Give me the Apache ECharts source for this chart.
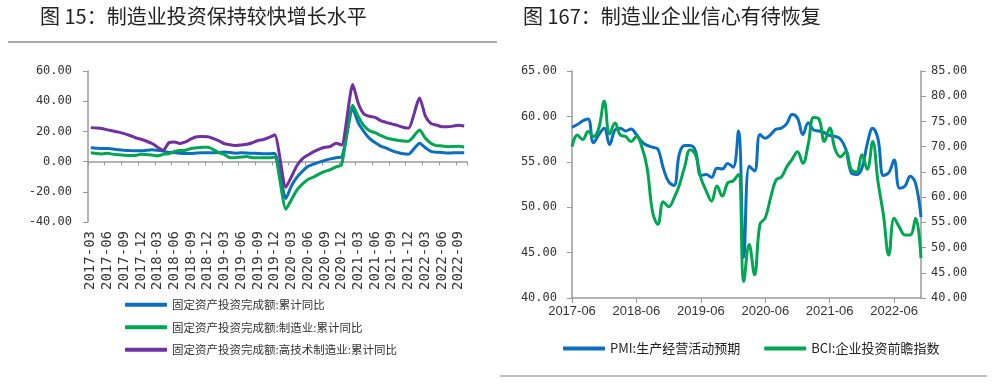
<!DOCTYPE html>
<html><head><meta charset="utf-8">
<script src="https://cdn.jsdelivr.net/npm/echarts@6/dist/echarts.min.js"></script>
<style>html,body{margin:0;padding:0;background:#fff;}#c{width:1000px;height:392px;}</style>
</head><body><div id="c"></div>
<script>
// ---------- Left chart data: monthly 2017-03 .. 2022-10 (Jan not published -> null) ----------
const leftStart = [2017, 3];
const leftCount = 68;
const faiYoY = [9.2, 8.9, 8.6, 8.6, 8.3, 7.8, 7.5, 7.3, 7.2, 7.2,
  null, 7.9, 7.5, 7.0, 6.1, 6.0, 5.5, 5.3, 5.4, 5.7, 5.9, 5.9,
  null, 6.1, 6.3, 6.1, 5.6, 5.8, 5.7, 5.5, 5.4, 5.2, 5.2, 5.4,
  null, -24.5, -16.1, -10.3, -6.3, -3.1, -1.6, -0.3, 0.8, 1.8, 2.6, 2.9,
  null, 35.0, 25.6, 19.9, 15.4, 12.6, 10.3, 8.9, 7.3, 6.1, 5.2, 4.9,
  null, 12.2, 9.3, 6.8, 6.2, 6.1, 5.7, 5.8, 5.9, 5.8];
const mfgYoY = [5.8, 5.3, 5.1, 5.5, 4.9, 4.5, 4.2, 4.1, 4.1, 4.8,
  null, 4.3, 3.8, 4.8, 5.2, 6.8, 7.3, 7.5, 8.7, 9.1, 9.5, 9.5,
  null, 5.9, 4.6, 2.5, 2.7, 3.0, 3.3, 2.6, 2.5, 2.6, 2.5, 3.1,
  null, -31.5, -25.2, -18.8, -14.8, -11.7, -10.2, -8.1, -6.5, -5.3, -3.5, -2.2,
  null, 37.3, 29.8, 23.8, 20.4, 19.2, 17.3, 15.7, 14.8, 14.2, 13.7, 13.5,
  null, 20.9, 15.6, 12.2, 10.6, 10.4, 9.9, 10.0, 10.1, 9.7];
const hiTechYoY = [22.5, 22.3, 21.9, 21.0, 20.3, 19.5, 18.5, 17.3, 15.8, 14.8,
  null, 12.0, 9.5, 7.5, 12.5, 13.0, 12.0, 13.0, 15.0, 16.4, 16.6, 16.5,
  null, 13.8, 11.8, 11.2, 10.6, 11.0, 11.5, 12.5, 14.0, 14.6, 16.0, 17.7,
  null, -17.0, -10.0, -2.6, 2.0, 4.4, 6.6, 8.3, 9.5, 10.0, 12.2, 11.0,
  null, 51.0, 38.5, 31.5, 30.0, 29.3, 27.2, 26.0, 25.0, 24.0, 22.8, 22.2,
  null, 42.2, 30.5, 25.3, 24.2, 23.1, 23.1, 23.5, 24.1, 23.6];
const leftNames = ['固定资产投资完成额:累计同比', '固定资产投资完成额:制造业:累计同比', '固定资产投资完成额:高技术制造业:累计同比'];
const leftYTicks = {min: -40, max: 60, interval: 20};

// ---------- Right chart data: monthly 2017-06 .. 2022-11 ----------
const rightStart = [2017, 6];
const rightCount = 66;
const pmiExpect = [58.8, 59.1, 59.5, 59.7, 57.1, 58.0, 58.7, 56.9, 58.5, 58.7,
  58.4, 58.6, 58.0, 57.2, 56.8, 56.6, 56.4, 54.3, 52.8, 52.4,
  55.9, 56.8, 56.8, 56.2, 53.5, 53.6, 53.3, 54.3, 54.2, 54.8,
  54.4, 58.4, 44.5, 54.5, 54.0, 58.0, 57.6, 58.0, 58.6, 58.7,
  59.2, 60.2, 59.8, 58.0, 59.3, 58.5, 58.4, 58.2, 57.9, 57.8,
  57.5, 56.4, 53.8, 53.6, 54.3, 57.0, 58.7, 57.5, 53.5, 53.8,
  55.2, 52.1, 52.3, 53.4, 52.6, 48.9];
const bciInvest = [70.0, 72.3, 71.4, 73.0, 72.0, 73.7, 79.0, 72.5, 74.7, 72.3,
  72.0, 71.0, 72.0, 70.0, 65.7, 57.1, 54.6, 59.1, 58.1, 59.8,
  62.4, 66.1, 69.4, 68.4, 63.8, 61.2, 59.2, 62.2, 60.2, 62.8,
  63.2, 64.5, 43.3, 50.6, 44.6, 54.6, 55.9, 59.9, 63.4, 64.0,
  66.0, 67.5, 69.0, 66.7, 70.5, 75.8, 75.5, 71.0, 73.7, 69.5,
  68.0, 69.0, 65.5, 65.0, 68.4, 65.5, 71.0, 63.0, 56.5, 48.5,
  55.8, 54.0, 52.5, 52.5, 55.8, 47.9];
const rightNames = ['PMI:生产经营活动预期', 'BCI:企业投资前瞻指数'];
const rightLeftTicks = {min: 40, max: 65, interval: 5};
const rightRightTicks = {min: 40, max: 85, interval: 5};

const titles = ['图 15：制造业投资保持较快增长水平', '图 167：制造业企业信心有待恢复'];

function months(start, n) {
  const out = []; let y = start[0], m = start[1];
  for (let i = 0; i < n; i++) {
    out.push(y + '-' + String(m).padStart(2, '0'));
    m++; if (m > 12) { m = 1; y++; }
  }
  return out;
}
const leftCats = months(leftStart, leftCount);
const rightCats = months(rightStart, rightCount);

const BLUE = '#0b6fc1', GREEN = '#00a651', PURPLE = '#7030a0';
const AX = '#9a9a9a', TXT = '#333';
const MONO = '"DejaVu Sans Mono", "Liberation Mono", monospace';
const CJK = '"Noto Sans CJK SC", "Noto Sans", sans-serif';
const fmt2 = v => v.toFixed(2);

const chart = echarts.init(document.getElementById('c'), null, {renderer: 'canvas', width: 1000, height: 392});

chart.setOption({
  animation: false,
  backgroundColor: '#fff',
  graphic: [
    {type: 'text', left: 40, top: 6, style: {text: titles[0], font: 'normal 20px ' + CJK, fill: '#222'}},
    {type: 'text', left: 523, top: 6, style: {text: titles[1], font: 'normal 20px ' + CJK, fill: '#222'}},
    {type: 'line', shape: {x1: 8, y1: 42, x2: 497, y2: 42}, style: {stroke: '#aaa', lineWidth: 2}},
    {type: 'line', shape: {x1: 500, y1: 376, x2: 987, y2: 376}, style: {stroke: '#aaa', lineWidth: 1.5}}
  ],
  grid: [
    {left: 88, top: 71, width: 379, height: 151},
    {left: 572, top: 71, width: 349, height: 227}
  ],
  legend: [
    {data: leftNames, orient: 'vertical', left: 120, top: 294, itemWidth: 42, itemHeight: 4, itemGap: 11,
     icon: 'roundRect', textStyle: {fontFamily: CJK, fontSize: 11.5, color: TXT}},
    {data: rightNames, orient: 'horizontal', left: 558, top: 337, itemWidth: 42, itemHeight: 4, itemGap: 24,
     icon: 'roundRect', textStyle: {fontFamily: CJK, fontSize: 13, color: '#222'}}
  ],
  xAxis: [
    {gridIndex: 0, type: 'category', data: leftCats, position: 'bottom',
     axisLine: {show: false, onZero: false}, axisTick: {show: false},
     axisLabel: {interval: 2, rotate: 90, margin: 9, fontFamily: MONO, fontSize: 14, color: TXT}},
    {gridIndex: 0, type: 'category', data: leftCats, position: 'bottom',
     axisLine: {show: true, onZero: true, lineStyle: {color: AX, width: 1.5}},
     axisTick: {show: true, interval: 2, length: 4, lineStyle: {color: AX}},
     axisLabel: {show: false}},
    {gridIndex: 1, type: 'category', data: rightCats, boundaryGap: false,
     axisLine: {lineStyle: {color: AX, width: 1.5}},
     axisTick: {interval: 11, length: 5, lineStyle: {color: AX}},
     axisLabel: {interval: 11, margin: 7, fontFamily: '"Liberation Sans", Arial, sans-serif', fontSize: 13, color: TXT}}
  ],
  yAxis: [
    {gridIndex: 0, type: 'value', min: leftYTicks.min, max: leftYTicks.max, interval: leftYTicks.interval,
     axisLine: {show: true, lineStyle: {color: AX, width: 1.5}}, axisTick: {show: true, length: 5, lineStyle: {color: AX}},
     splitLine: {show: false}, axisLabel: {formatter: fmt2, margin: 16, fontFamily: MONO, fontSize: 12, color: TXT}},
    {gridIndex: 1, type: 'value', position: 'left', min: rightLeftTicks.min, max: rightLeftTicks.max, interval: rightLeftTicks.interval,
     axisLine: {show: true, lineStyle: {color: AX, width: 1.5}}, axisTick: {show: true, length: 5, lineStyle: {color: AX}},
     splitLine: {show: false}, axisLabel: {formatter: fmt2, margin: 15, fontFamily: MONO, fontSize: 12, color: TXT}},
    {gridIndex: 1, type: 'value', position: 'right', min: rightRightTicks.min, max: rightRightTicks.max, interval: rightRightTicks.interval,
     axisLine: {show: true, lineStyle: {color: AX, width: 1.5}}, axisTick: {show: true, length: 5, lineStyle: {color: AX}},
     splitLine: {show: false}, axisLabel: {formatter: fmt2, margin: 10, fontFamily: MONO, fontSize: 12, color: TXT}}
  ],
  series: [
    {name: leftNames[0], type: 'line', xAxisIndex: 0, yAxisIndex: 0, data: faiYoY, connectNulls: true,
     showSymbol: false, symbol: 'none', smooth: 0.2, lineStyle: {color: BLUE, width: 3}, itemStyle: {color: BLUE}, z: 3},
    {name: leftNames[1], type: 'line', xAxisIndex: 0, yAxisIndex: 0, data: mfgYoY, connectNulls: true,
     showSymbol: false, symbol: 'none', smooth: 0.2, lineStyle: {color: GREEN, width: 3}, itemStyle: {color: GREEN}, z: 4},
    {name: leftNames[2], type: 'line', xAxisIndex: 0, yAxisIndex: 0, data: hiTechYoY, connectNulls: true,
     showSymbol: false, symbol: 'none', smooth: 0.2, lineStyle: {color: PURPLE, width: 3}, itemStyle: {color: PURPLE}, z: 5},
    {name: rightNames[0], type: 'line', xAxisIndex: 2, yAxisIndex: 1, data: pmiExpect,
     showSymbol: false, symbol: 'none', smooth: 0.4, lineStyle: {color: BLUE, width: 3}, itemStyle: {color: BLUE}, z: 3},
    {name: rightNames[1], type: 'line', xAxisIndex: 2, yAxisIndex: 2, data: bciInvest,
     showSymbol: false, symbol: 'none', smooth: 0.4, lineStyle: {color: GREEN, width: 3}, itemStyle: {color: GREEN}, z: 4}
  ]
});
</script></body></html>
